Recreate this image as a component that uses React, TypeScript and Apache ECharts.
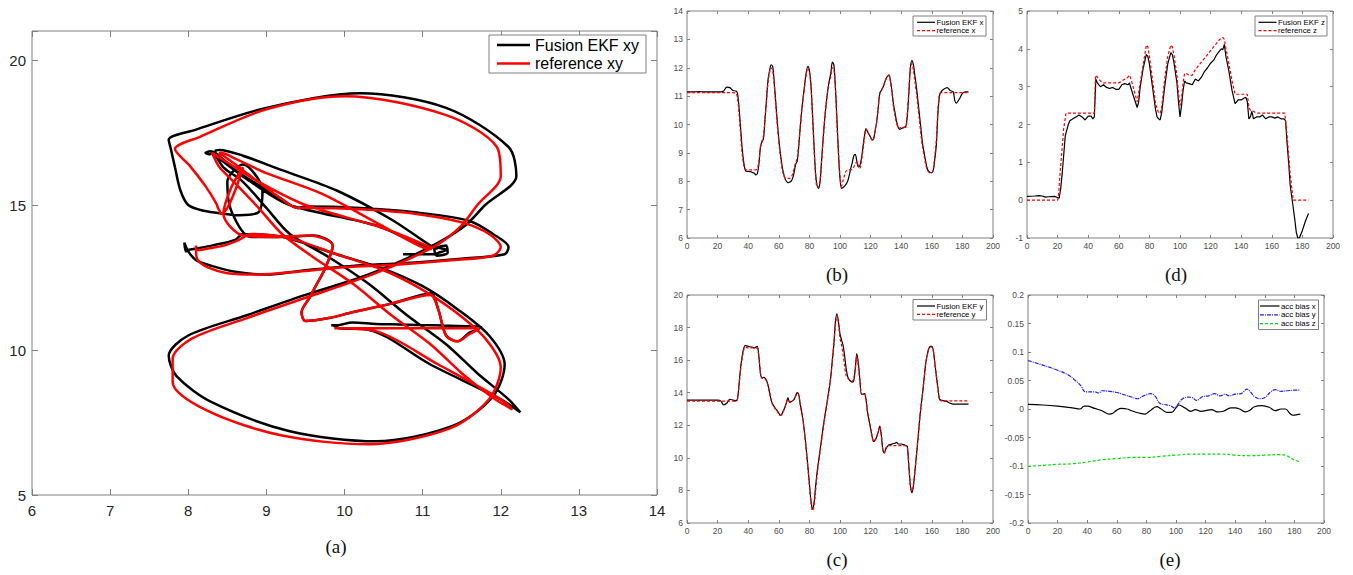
import React, { useEffect, useRef } from 'react';
import * as echarts from 'echarts';

// sample times (s) shared by the x / y position series
const tXY = [
  0, 4, 8, 12, 16, 20, 22, 24, 26, 28, 30,
  32, 33, 34, 35, 36, 37, 38, 39, 40, 41,
  42, 43, 44, 45, 46, 47, 48, 49, 50, 51,
  52, 53, 54, 55, 56, 57, 58, 59, 60, 61,
  62, 63, 64, 65, 66, 67, 68, 69, 70, 71,
  72, 73, 74, 75, 76, 77, 78, 79, 80, 81,
  82, 83, 84, 85, 86, 87, 88, 89, 90, 91,
  92, 93, 94, 95, 96, 97, 98, 99, 100, 101,
  102, 103, 104, 105, 106, 107, 108, 109, 110, 111,
  112, 113, 114, 115, 116, 117, 118, 119, 120, 121,
  122, 123, 124, 125, 126, 127, 128, 129, 130, 131,
  132, 133, 134, 135, 136, 137, 138, 139, 140, 141,
  142, 143, 144, 145, 146, 147, 148, 149, 150, 151,
  152, 153, 154, 155, 156, 157, 158, 159, 160, 161,
  162, 163, 164, 165, 166,
  168, 170, 172, 174, 175, 176, 178, 180, 182, 184,
];

const ekfX = [
  11.15, 11.15, 11.16, 11.15, 11.15, 11.15, 11.15, 11.18, 11.32, 11.3, 11.2,
  11.18, 11.1, 10.6, 9.9, 9.2, 8.7, 8.4, 8.35, 8.35, 8.34,
  8.33, 8.3, 8.28, 8.22, 8.28, 8.6, 9.2, 9.4, 9.5, 10.2,
  10.9, 11.6, 11.9, 12.1, 12.05, 11.5, 10.8, 10.1, 9.5, 9.0,
  8.6, 8.3, 8.1, 8.0, 7.95, 7.97, 8.0, 8.1, 8.3, 8.6,
  8.7, 9.2, 9.9, 10.5, 11.0, 11.45, 11.85, 12.05, 11.9, 11.4,
  10.4, 9.3, 8.3, 7.85, 7.75, 8.0, 8.75, 9.5, 10.2, 10.75,
  11.2, 11.55, 11.8, 12.2, 12.1, 11.3, 10.2, 9.0, 8.1, 7.75,
  7.78, 7.83, 7.9, 8.0, 8.2, 8.45, 8.65, 8.9, 8.95, 8.7,
  8.5, 8.55, 8.8, 9.2, 9.6, 9.85, 9.75, 9.65, 9.55, 9.45,
  9.5, 9.8, 10.1, 10.6, 11.1, 11.2, 11.3, 11.45, 11.6, 11.7,
  11.75, 11.55, 11.15, 10.7, 10.4, 10.1, 9.9, 9.83, 9.85, 9.88,
  9.9, 9.93, 10.3, 11.1, 12.0, 12.25, 12.1, 11.7, 11.3, 10.8,
  10.3, 9.8, 9.3, 9.0, 8.7, 8.45, 8.35, 8.3, 8.3, 8.4,
  8.8, 9.3, 10.4, 11.0, 11.15,
  11.25, 11.3, 11.2, 11.15, 10.85, 10.75, 10.9, 11.1, 11.15, 11.15,
];

const ekfY = [
  13.55, 13.55, 13.55, 13.55, 13.55, 13.55, 13.5, 13.25, 13.35, 13.6, 13.55,
  13.5, 13.6, 14.5, 15.5, 16.2, 16.7, 16.9, 16.88, 16.85, 16.82,
  16.8, 16.78, 16.75, 16.8, 16.85, 16.2, 15.2, 14.9, 14.95, 14.9,
  14.75, 14.45, 14.0, 13.55, 13.3, 13.15, 13.0, 12.9, 12.75, 12.6,
  12.7, 12.9, 13.1, 13.4, 13.7, 13.4, 13.45, 13.5, 13.6, 13.8,
  14.0, 13.9, 13.3, 12.8, 12.2, 11.4, 10.5, 9.5, 8.4, 7.4,
  6.85, 7.2, 8.2, 9.1, 9.8, 10.5, 11.2, 11.9, 12.5, 13.1,
  13.7, 14.3, 15.0, 16.0, 17.0, 18.35, 18.85, 18.35, 17.6, 17.25,
  16.9, 16.3, 15.5, 15.0, 14.8, 14.7, 14.65, 14.75, 15.5, 16.4,
  15.8, 14.8, 13.9, 13.9, 13.95, 13.6, 12.8, 12.3, 11.8, 11.3,
  11.0, 11.1, 11.3, 11.6, 11.95, 11.4, 10.5, 10.3, 10.6, 10.7,
  10.8, 10.82, 10.85, 10.88, 10.9, 10.95, 10.85, 10.85, 10.85, 10.82,
  10.8, 10.75, 10.7, 9.5, 8.3, 7.85, 8.3, 9.2, 10.2, 11.2,
  12.3, 13.2, 14.0, 14.9, 15.8, 16.3, 16.7, 16.85, 16.85, 16.6,
  15.8, 15.0, 14.3, 13.6, 13.55,
  13.5, 13.45, 13.35, 13.3, 13.3, 13.3, 13.3, 13.3, 13.3, 13.3,
];

const refX = [
  11.12, 11.12, 11.12, 11.12, 11.12, 11.12, 11.12, 11.12, 11.12, 11.12, 11.12,
  11.1, 10.95, 10.4, 9.7, 9.0, 8.6, 8.42, 8.4, 8.4, 8.4,
  8.4, 8.4, 8.4, 8.4, 8.45, 8.7, 9.2, 9.4, 9.6, 10.2,
  10.9, 11.5, 11.85, 12.0, 11.9, 11.4, 10.7, 10.0, 9.4, 8.9,
  8.5, 8.25, 8.12, 8.1, 8.1, 8.1, 8.15, 8.25, 8.45, 8.65,
  8.8, 9.3, 9.9, 10.5, 10.95, 11.4, 11.8, 12.0, 11.85, 11.35,
  10.3, 9.2, 8.25, 7.8, 7.8, 8.05, 8.75, 9.5, 10.2, 10.75,
  11.2, 11.5, 11.7, 12.0, 11.95, 11.3, 10.0, 9.0, 8.15, 7.83,
  8.02, 8.22, 8.36, 8.38, 8.4, 8.41, 8.42, 8.5, 8.6, 8.7,
  8.55, 8.45, 8.7, 9.1, 9.55, 9.85, 9.75, 9.65, 9.55, 9.45,
  9.5, 9.8, 10.1, 10.6, 11.1, 11.2, 11.3, 11.45, 11.6, 11.7,
  11.72, 11.5, 11.1, 10.6, 10.3, 10.05, 9.9, 9.87, 9.9, 9.9,
  9.9, 9.9, 10.4, 11.2, 12.0, 12.15, 11.9, 11.5, 11.1, 10.6,
  10.1, 9.6, 9.2, 8.9, 8.6, 8.4, 8.32, 8.3, 8.3, 8.45,
  8.9, 9.5, 10.5, 11.05, 11.12,
  11.12, 11.12, 11.12, 11.12, 11.12, 11.12, 11.12, 11.12, 11.12, 11.12,
];

const refY = [
  13.48, 13.48, 13.48, 13.48, 13.48, 13.48, 13.48, 13.48, 13.48, 13.48, 13.48,
  13.48, 13.6, 14.4, 15.4, 16.1, 16.6, 16.8, 16.78, 16.75, 16.75,
  16.75, 16.75, 16.75, 16.75, 16.7, 16.2, 15.2, 14.9, 14.9, 14.85,
  14.7, 14.4, 14.0, 13.55, 13.25, 13.1, 12.95, 12.85, 12.7, 12.6,
  12.65, 12.85, 13.1, 13.4, 13.6, 13.45, 13.45, 13.5, 13.6, 13.8,
  14.0, 13.85, 13.3, 12.75, 12.15, 11.35, 10.4, 9.4, 8.3, 7.3,
  6.75, 7.05, 7.9, 8.9, 9.7, 10.4, 11.1, 11.8, 12.45, 13.05,
  13.65, 14.3, 15.0, 16.0, 17.0, 18.1, 18.75, 18.3, 17.35, 16.93,
  16.35, 15.65, 15.05, 14.9, 14.8, 14.72, 14.7, 14.9, 15.5, 16.3,
  15.6, 14.7, 13.95, 13.9, 13.95, 13.6, 12.8, 12.3, 11.8, 11.3,
  11.0, 11.1, 11.3, 11.6, 11.9, 11.4, 10.5, 10.3, 10.55, 10.7,
  10.75, 10.75, 10.75, 10.75, 10.75, 10.75, 10.75, 10.75, 10.75, 10.75,
  10.75, 10.75, 10.65, 9.5, 8.3, 7.95, 8.35, 9.2, 10.2, 11.2,
  12.3, 13.2, 14.0, 14.9, 15.75, 16.3, 16.7, 16.8, 16.8, 16.55,
  15.8, 15.0, 14.2, 13.6, 13.5,
  13.5, 13.5, 13.5, 13.5, 13.5, 13.5, 13.5, 13.5, 13.5, 13.5,
];

// [time, z]
const ekfZ = [
  [0, 0.1], [5, 0.11], [8, 0.12], [10, 0.11], [12, 0.08], [14, 0.09], [18, 0.1], [20, 0.07],
  [21, 0.05], [22, 0.3], [23, 0.7], [24, 1.2], [25, 1.7], [26, 1.85], [27, 2.0], [28, 2.1],
  [30, 2.15], [32, 2.2], [34, 2.25], [36, 2.2], [38, 2.12], [40, 2.22], [42, 2.22], [43, 2.15],
  [44, 2.2], [45, 3.2], [46, 3.1], [47, 3.05], [48, 3.0], [50, 3.05], [52, 2.98], [54, 2.95],
  [56, 2.98], [58, 2.93], [60, 2.93], [62, 3.05], [64, 3.08], [66, 3.05], [67, 3.1], [68, 2.95],
  [70, 2.7], [72, 2.45], [73, 2.6], [74, 3.0], [76, 3.5], [78, 3.85], [79, 3.8], [80, 3.6],
  [82, 3.0], [84, 2.4], [85, 2.2], [86, 2.15], [87, 2.12], [88, 2.3], [90, 3.0], [92, 3.6],
  [94, 3.9], [95, 3.85], [96, 3.65], [98, 3.1], [99, 2.6], [100, 2.2], [101, 2.5], [102, 2.9],
  [103, 3.15], [104, 3.1], [106, 3.08], [108, 3.05], [110, 3.2], [112, 3.15], [114, 3.25],
  [116, 3.4], [118, 3.5], [120, 3.62], [122, 3.7], [124, 3.85], [126, 3.95], [127, 4.0],
  [128, 3.98], [129, 4.12], [130, 3.8], [131, 3.6], [132, 3.4], [134, 2.9], [136, 2.55],
  [137, 2.6], [138, 2.65], [140, 2.65], [142, 2.7], [143, 2.72], [144, 2.6], [145, 2.15],
  [146, 2.2], [147, 2.35], [148, 2.15], [150, 2.2], [152, 2.2], [154, 2.25], [156, 2.15],
  [158, 2.2], [160, 2.2], [162, 2.17], [164, 2.2], [166, 2.15], [168, 2.15], [169, 2.1],
  [170, 1.5], [171, 1.0], [172, 0.4], [174, -0.2], [175, -0.5], [176, -0.85], [177, -1.0],
  [178, -1.0], [180, -0.8], [182, -0.55], [184, -0.35],
];

const refZ = [
  [0, 0], [20, 0], [20.5, 0.1], [22, 0.9], [24, 1.9], [25.5, 2.3], [44, 2.3], [44.8, 3.3],
  [46, 3.25], [48, 3.15], [50, 3.1], [60, 3.1], [62, 3.15], [64, 3.2], [66, 3.25], [67, 3.3],
  [68, 3.2], [70, 2.9], [72, 2.6], [74, 3.1], [76, 3.6], [78, 4.1], [79, 4.05], [80, 3.8],
  [82, 3.2], [84, 2.55], [86, 2.3], [87, 2.3], [88, 2.45], [90, 3.2], [92, 3.8], [94, 4.1],
  [95, 4.05], [96, 3.85], [98, 3.3], [99, 2.8], [100, 2.5], [101, 2.7], [102, 3.1], [103, 3.35],
  [104, 3.35], [106, 3.3], [108, 3.3], [110, 3.45], [112, 3.55], [114, 3.65], [116, 3.75],
  [118, 3.85], [120, 3.95], [122, 4.05], [124, 4.15], [126, 4.25], [128, 4.3], [129, 4.25],
  [130, 4.0], [132, 3.6], [134, 3.15], [136, 2.8], [144, 2.8], [145, 2.45], [146, 2.38],
  [148, 2.35], [150, 2.3], [168.5, 2.3], [170, 1.7], [172, 0.7], [174, 0], [184, 0],
];

const biasX = [
  [0, 0.008], [10, 0.007], [20, 0.005], [30, 0.002], [35, 0.0], [38, 0.005], [40, 0.005],
  [45, 0.001], [50, -0.003], [55, -0.009], [57, -0.008], [60, -0.002], [63, 0.001], [67, 0.0],
  [70, -0.003], [75, -0.007], [79, -0.009], [82, -0.004], [87, 0.004], [90, 0.0], [94, -0.006],
  [97, -0.006], [100, 0.002], [102, 0.007], [106, 0.002], [110, -0.004], [113, -0.001],
  [117, -0.004], [120, -0.003], [124, -0.001], [128, -0.005], [132, -0.004], [137, 0.002],
  [140, 0.002], [143, 0.0], [147, -0.005], [150, -0.002], [153, 0.004], [158, 0.006],
  [163, 0.003], [167, -0.003], [171, 0.0], [174, 0.0], [177, -0.008], [179, -0.011],
  [182, -0.01], [184, -0.009],
];

const biasY = [
  [0, 0.085], [10, 0.077], [20, 0.068], [27, 0.06], [32, 0.05], [36, 0.04], [38, 0.031],
  [40, 0.03], [45, 0.03], [48, 0.028], [50, 0.032], [55, 0.031], [60, 0.029], [65, 0.025],
  [70, 0.021], [74, 0.018], [78, 0.023], [83, 0.027], [86, 0.022], [89, 0.01], [92, 0.008],
  [96, 0.006], [99, 0.002], [101, 0.007], [104, 0.017], [108, 0.021], [111, 0.02], [114, 0.015],
  [118, 0.022], [122, 0.023], [126, 0.027], [130, 0.023], [133, 0.026], [136, 0.023],
  [140, 0.026], [144, 0.027], [148, 0.035], [150, 0.031], [153, 0.022], [157, 0.018],
  [160, 0.02], [164, 0.03], [167, 0.034], [171, 0.031], [175, 0.032], [180, 0.033], [184, 0.033],
];

const biasZ = [
  [0, -0.1005], [10, -0.099], [20, -0.097], [30, -0.096], [40, -0.093], [50, -0.089],
  [60, -0.087], [70, -0.085], [80, -0.085], [90, -0.083], [100, -0.081], [110, -0.079],
  [120, -0.079], [130, -0.079], [140, -0.081], [150, -0.082], [160, -0.081], [170, -0.08],
  [175, -0.082], [178, -0.087], [184, -0.093],
];

const panelLabels = ['(a)', '(b)', '(c)', '(d)', '(e)'];

const AX = '#808080';

function makeAxes(kind: 'x' | 'y', grid: number, min: number, max: number, interval: number, big: boolean, fmt?: (v: number) => string) {
  const main: any = {
    type: 'value', gridIndex: grid, min, max, interval,
    position: kind === 'x' ? 'bottom' : 'left',
    axisLine: { show: false, onZero: false },
    splitLine: { show: false },
    axisTick: { show: true, inside: true, length: big ? 6 : 3, lineStyle: { color: AX, width: 1 } },
    axisLabel: {
      show: true,
      color: big ? '#262626' : '#4d4d4d',
      fontSize: big ? 15 : 8.5,
      fontFamily: 'Liberation Sans, Arial, sans-serif',
      margin: big ? (kind === 'x' ? 8 : 6) : (kind === 'x' ? 3 : 4),
      formatter: fmt,
      showMinLabel: true,
      showMaxLabel: true,
    },
  };
  const mirror: any = {
    type: 'value', gridIndex: grid, min, max, interval,
    position: kind === 'x' ? 'top' : 'right',
    axisLine: { show: false, onZero: false },
    splitLine: { show: false },
    axisTick: { show: true, inside: true, length: big ? 6 : 3, lineStyle: { color: AX, width: 1 } },
    axisLabel: { show: false },
  };
  return [main, mirror];
}

const grids = [
  { left: 32, top: 31, width: 625, height: 464 },
  { left: 687, top: 11, width: 306, height: 227 },
  { left: 1027, top: 11, width: 306, height: 227 },
  { left: 687, top: 295, width: 306, height: 228 },
  { left: 1028, top: 295, width: 296, height: 228 },
];

function legendBox(x: number, y: number, w: number, h: number, rows: { y: number; color: string; dash?: number[]; text: string }[], lx1: number, lx2: number, tx: number, fs: number, lw: number) {
  const els: any[] = [
    { type: 'rect', shape: { x, y, width: w, height: h }, style: { fill: '#fff', stroke: AX, lineWidth: 1 }, z: 100 },
  ];
  rows.forEach((r) => {
    els.push({
      type: 'line', shape: { x1: lx1, y1: r.y, x2: lx2, y2: r.y },
      style: { stroke: r.color, lineWidth: lw, lineDash: r.dash || null }, z: 101,
    });
    els.push({
      type: 'text', x: tx, y: r.y,
      style: { text: r.text, fontSize: fs, fontFamily: 'Liberation Sans, Arial, sans-serif', fill: '#000', verticalAlign: 'middle', align: 'left' },
      z: 101,
    });
  });
  return els;
}

export default function App() {
  const ref = useRef<HTMLDivElement>(null);
  useEffect(() => {
    if (!ref.current) return;
    const chart = echarts.init(ref.current, null, { renderer: 'svg' });

    const xyEkf = tXY.map((_, i) => [ekfX[i], ekfY[i]]);
    const xyRef = tXY.map((_, i) => [refX[i], refY[i]]);
    const tsEkfX = tXY.map((t, i) => [t, ekfX[i]]);
    const tsRefX = tXY.map((t, i) => [t, refX[i]]);
    const tsEkfY = tXY.map((t, i) => [t, ekfY[i]]);
    const tsRefY = tXY.map((t, i) => [t, refY[i]]);

    const xAxes = [
      ...makeAxes('x', 0, 6, 14, 1, true),
      ...makeAxes('x', 1, 0, 200, 20, false),
      ...makeAxes('x', 2, 0, 200, 20, false),
      ...makeAxes('x', 3, 0, 200, 20, false),
      ...makeAxes('x', 4, 0, 200, 20, false),
    ];
    const yAxes = [
      ...makeAxes('y', 0, 5, 21, 5, true, (v: number) => (v % 5 === 0 ? String(v) : '')),
      ...makeAxes('y', 1, 6, 14, 1, false),
      ...makeAxes('y', 2, -1, 5, 1, false),
      ...makeAxes('y', 3, 6, 20, 2, false),
      ...makeAxes('y', 4, -0.2, 0.2, 0.05, false, (v: number) => String(Math.round(v * 100) / 100)),
    ];

    const line = (name: string, data: any[], ax: number, color: string, width: number, dash: any, smooth: any) => ({
      name, type: 'line', data, xAxisIndex: ax, yAxisIndex: ax, symbol: 'none', smooth,
      lineStyle: { color, width, type: dash || 'solid' }, itemStyle: { color }, silent: true, clip: true,
    });

    const series = [
      line('Fusion EKF xy', xyEkf, 0, '#000000', 2.5, null, 0.3),
      line('reference xy', xyRef, 0, '#ff0000', 2.5, null, 0.3),
      line('Fusion EKF x', tsEkfX, 2, '#000000', 1.2, null, 0.3),
      line('reference x', tsRefX, 2, '#ff0000', 1.2, [3, 2], 0.3),
      line('Fusion EKF z', ekfZ, 4, '#000000', 1.2, null, false),
      line('reference z', refZ, 4, '#ff0000', 1.2, [3, 2], false),
      line('Fusion EKF y', tsEkfY, 6, '#000000', 1.2, null, 0.3),
      line('reference y', tsRefY, 6, '#ff0000', 1.2, [3, 2], 0.3),
      line('acc bias x', biasX, 8, '#000000', 1.2, null, 0.4),
      line('acc bias y', biasY, 8, '#2020ff', 1.2, [4, 1, 1, 1], 0.4),
      line('acc bias z', biasZ, 8, '#00e000', 1.2, [3, 2], 0.4),
    ];

    const serif = 'Liberation Serif, Times New Roman, serif';
    const labelPos = [[336, 546], [837, 274], [837, 559], [1176, 274], [1170, 559]];
    const graphic: any[] = [
      ...legendBox(489, 35, 157, 38, [
        { y: 45, color: '#000', text: 'Fusion EKF xy' },
        { y: 63.5, color: '#ff0000', text: 'reference xy' },
      ], 497, 530, 535, 16, 2.5),
      ...legendBox(913, 16, 73, 20, [
        { y: 22.3, color: '#000', text: 'Fusion EKF x' },
        { y: 30.7, color: '#ff0000', dash: [3, 2], text: 'reference x' },
      ], 917, 935, 936.5, 7.8, 1.2),
      ...legendBox(1255, 16, 72, 20, [
        { y: 22.3, color: '#000', text: 'Fusion EKF z' },
        { y: 30.7, color: '#ff0000', dash: [3, 2], text: 'reference z' },
      ], 1258.5, 1276.5, 1278, 7.8, 1.2),
      ...legendBox(913, 299.5, 73.5, 20.5, [
        { y: 306, color: '#000', text: 'Fusion EKF y' },
        { y: 314.3, color: '#ff0000', dash: [3, 2], text: 'reference y' },
      ], 917, 935, 936.5, 7.8, 1.2),
      ...legendBox(1258.5, 300, 60, 29.5, [
        { y: 306, color: '#000', text: 'acc bias x' },
        { y: 314.8, color: '#2020ff', dash: [4, 1, 1, 1], text: 'acc bias y' },
        { y: 323.6, color: '#00e000', dash: [3, 2], text: 'acc bias z' },
      ], 1260, 1279.5, 1281, 7.8, 1.2),
      ...panelLabels.map((t, i) => ({
        type: 'text', x: labelPos[i][0], y: labelPos[i][1],
        style: { text: t, fontSize: 19, fontFamily: serif, fill: '#111', align: 'center', verticalAlign: 'middle' },
      })),
    ];

    chart.setOption({
      animation: false,
      backgroundColor: '#ffffff',
      grid: grids.map((g) => ({ ...g, show: true, borderColor: AX, borderWidth: 1, backgroundColor: 'transparent', containLabel: false })),
      xAxis: xAxes,
      yAxis: yAxes,
      series,
      graphic,
    });
    return () => chart.dispose();
  }, []);
  return <div ref={ref} style={{ position: 'absolute', left: 0, top: 0, width: 1353, height: 575, background: '#fff' }} />;
}
